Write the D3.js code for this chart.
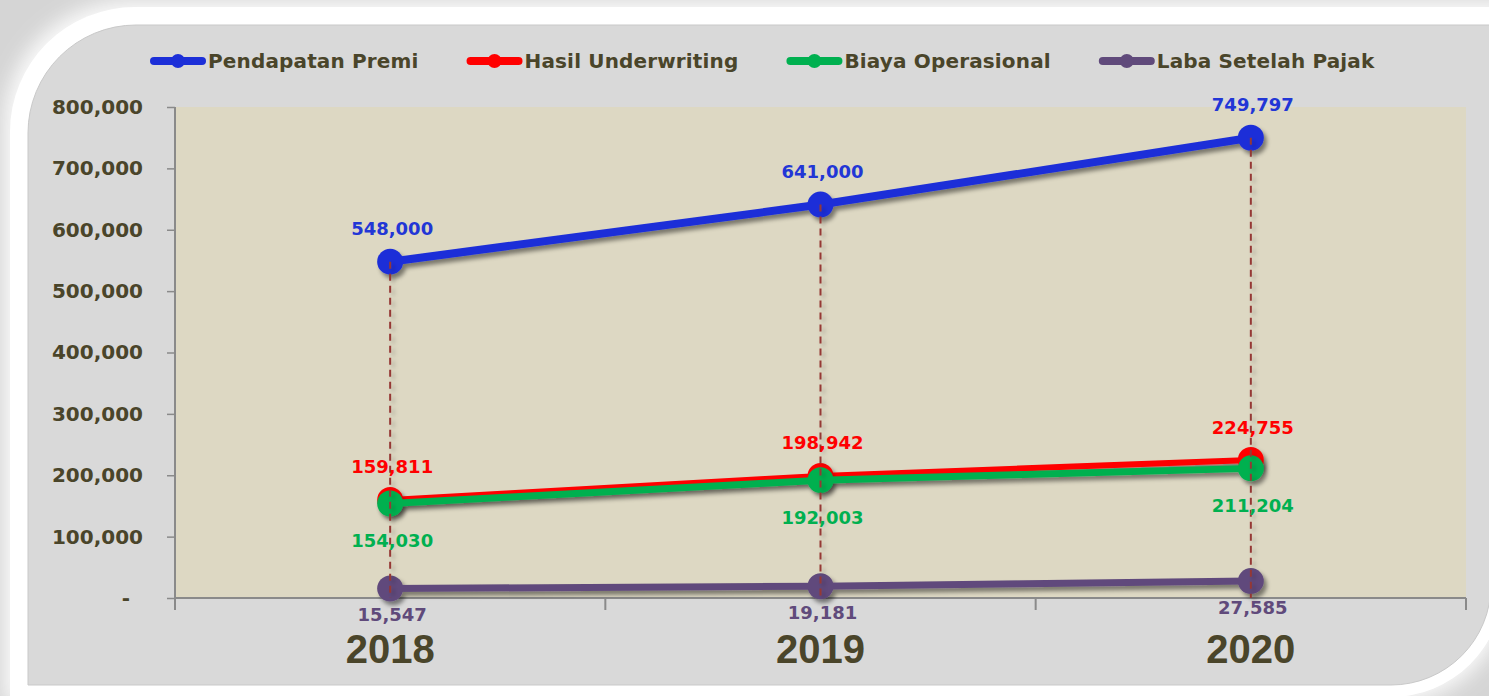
<!DOCTYPE html>
<html><head><meta charset="utf-8">
<script src="https://cdn.jsdelivr.net/npm/d3@7"></script>
<style>html,body{margin:0;padding:0;background:#d5d5d5;overflow:hidden}</style>
</head><body><svg id="c" width="1489" height="696"></svg>
<script>
const categories = ["2018", "2019", "2020"];
const seriesNames = ["Pendapatan Premi", "Hasil Underwriting", "Biaya Operasional", "Laba Setelah Pajak"];
const pendapatanPremi = [548000, 641000, 749797];
const hasilUnderwriting = [159811, 198942, 224755];
const biayaOperasional = [154030, 192003, 211204];
const labaSetelahPajak = [15547, 19181, 27585];
const yTicks = [0, 100000, 200000, 300000, 400000, 500000, 600000, 700000, 800000];

const series = [
  {name: seriesNames[0], values: pendapatanPremi, color: "#1c2fd8", labelColor: "#2236d6", width: 8, pos: "above"},
  {name: seriesNames[1], values: hasilUnderwriting, color: "#ff0000", labelColor: "#ff0000", width: 6, pos: "above"},
  {name: seriesNames[2], values: biayaOperasional, color: "#00b050", labelColor: "#00b050", width: 7, pos: "below"},
  {name: seriesNames[3], values: labaSetelahPajak, color: "#604a7b", labelColor: "#604a7b", width: 7, pos: "below"}
];

const svg = d3.select("#c");
const defs = svg.append("defs");
const sh = defs.append("filter").attr("id", "sh").attr("x", "-20%").attr("y", "-20%").attr("width", "140%").attr("height", "140%");
sh.append("feDropShadow").attr("dx", 3).attr("dy", 4).attr("stdDeviation", 2.2).attr("flood-color", "#000").attr("flood-opacity", 0.45);
const sh2 = defs.append("filter").attr("id", "sh2").attr("x", "-50%").attr("y", "-5%").attr("width", "200%").attr("height", "110%");
sh2.append("feDropShadow").attr("dx", 3).attr("dy", 3).attr("stdDeviation", 2).attr("flood-color", "#000").attr("flood-opacity", 0.25);
const glow = defs.append("filter").attr("id", "glow").attr("x", "-20%").attr("y", "-20%").attr("width", "140%").attr("height", "140%");
glow.append("feGaussianBlur").attr("stdDeviation", 10);

function frame(x0, y0, x1, y1, r1, r2) {
  return `M${x0},${y0 + r1} A${r1},${r1} 0 0 1 ${x0 + r1},${y0} L${x1},${y0} L${x1},${y1 - r2} A${r2},${r2} 0 0 1 ${x1 - r2},${y1} L${x0},${y1} Z`;
}
// background frame
svg.append("path").attr("d", frame(4, 1, 1509, 703, 125, 118)).attr("fill", "#ffffff").attr("opacity", 0.9).attr("filter", "url(#glow)");
svg.append("path").attr("d", frame(10, 7, 1503, 697, 125, 112)).attr("fill", "#ffffff");
svg.append("path").attr("d", frame(28, 25, 1491, 685, 108, 100)).attr("fill", "#d9d9d9").attr("stroke", "#c9c9c9").attr("stroke-width", 1);

const plot = {left: 175, right: 1466, top: 107, bottom: 598};
const x = d3.scaleBand().domain(categories).range([plot.left, plot.right]);
const y = d3.scaleLinear().domain([0, 800000]).range([plot.bottom, plot.top]);
const cx = c => x(c) + x.bandwidth() / 2;

svg.append("rect").attr("x", plot.left).attr("y", plot.top)
  .attr("width", plot.right - plot.left).attr("height", plot.bottom - plot.top).attr("fill", "#ddd8c3");

const textColor = "#4a452a";
// Y axis
const yAxis = svg.append("g").attr("transform", `translate(${plot.left},0)`)
  .call(d3.axisLeft(y).tickValues(yTicks).tickSize(8).tickPadding(24)
    .tickFormat(d => d === 0 ? "-" : d3.format(",")(d)));
yAxis.select(".domain").attr("stroke", "#8a8a8a").attr("stroke-width", 2).attr("d", `M0,${plot.top}V${plot.bottom}`);
yAxis.selectAll(".tick line").attr("stroke", "#8a8a8a").attr("stroke-width", 1.5);
yAxis.selectAll(".tick text").attr("fill", textColor).attr("font-family", "DejaVu Sans").attr("font-weight", "bold").attr("font-size", 20)
  .attr("dx", d => d === 0 ? -13 : 0);

// X axis
const xAxis = svg.append("g").attr("transform", `translate(0,${plot.bottom})`)
  .call(d3.axisBottom(x).tickSize(0).tickFormat(""));
xAxis.select(".domain").attr("stroke", "#8a8a8a").attr("stroke-width", 2).attr("d", `M${plot.left},0H${plot.right}`);
const boundaries = categories.map(c => x(c)).concat([x(categories[categories.length - 1]) + x.bandwidth()]);
xAxis.selectAll(".bt").data(boundaries).enter().append("line").attr("class", "bt")
  .attr("x1", d => d).attr("x2", d => d).attr("y1", 0).attr("y2", 12).attr("stroke", "#8a8a8a").attr("stroke-width", 2);
svg.selectAll(".cat").data(categories).enter().append("text").attr("class", "cat")
  .attr("x", d => cx(d)).attr("y", 663).attr("text-anchor", "middle")
  .attr("font-family", "Liberation Sans").attr("font-weight", 700).attr("font-size", 40).attr("fill", textColor).text(d => d);

// series lines + markers
const line = d3.line().x((d, i) => cx(categories[i])).y(d => y(d));
series.forEach(s => {
  const g = svg.append("g").attr("filter", "url(#sh)");
  g.append("path").datum(s.values).attr("d", line).attr("fill", "none").attr("stroke", s.color)
    .attr("stroke-width", s.width).attr("stroke-linejoin", "round").attr("stroke-linecap", "round");
  g.selectAll("circle").data(s.values).enter().append("circle")
    .attr("cx", (d, i) => cx(categories[i])).attr("cy", d => y(d)).attr("r", 13).attr("fill", s.color);
});

// drop lines
const maxVals = categories.map((c, i) => d3.max(series, s => s.values[i]));
svg.append("g").attr("filter", "url(#sh2)").selectAll("line").data(maxVals).enter().append("line")
  .attr("x1", (d, i) => cx(categories[i])).attr("x2", (d, i) => cx(categories[i]))
  .attr("y1", d => y(d)).attr("y2", plot.bottom)
  .attr("stroke", "#953735").attr("stroke-width", 2).attr("stroke-dasharray", "7,5");

// data labels
series.forEach(s => {
  svg.selectAll(null).data(s.values).enter().append("text")
    .attr("x", (d, i) => cx(categories[i]) + 2)
    .attr("y", d => y(d) + (s.pos === "above" ? -33 : (s.name === seriesNames[3] ? 26 : 37)))
    .attr("dy", "0.36em").attr("text-anchor", "middle")
    .attr("font-family", "DejaVu Sans").attr("font-weight", "bold").attr("font-size", 18)
    .attr("fill", s.labelColor).text(d => d3.format(",")(d));
});

// legend
let lx = 150;
const ly = 61;
series.forEach(s => {
  const g = svg.append("g");
  g.append("line").attr("x1", lx + 4).attr("x2", lx + 52).attr("y1", ly).attr("y2", ly)
    .attr("stroke", s.color).attr("stroke-width", 8).attr("stroke-linecap", "round");
  g.append("circle").attr("cx", lx + 28).attr("cy", ly).attr("r", 7).attr("fill", s.color);
  const t = g.append("text").attr("x", lx + 58).attr("y", ly).attr("dy", "0.36em")
    .attr("font-family", "DejaVu Sans").attr("font-weight", "bold").attr("font-size", 20)
    .attr("letter-spacing", "0.15px")
    .attr("fill", textColor).text(s.name);
  lx = lx + 58 + t.node().getComputedTextLength() + 48;
});
</script></body></html>
